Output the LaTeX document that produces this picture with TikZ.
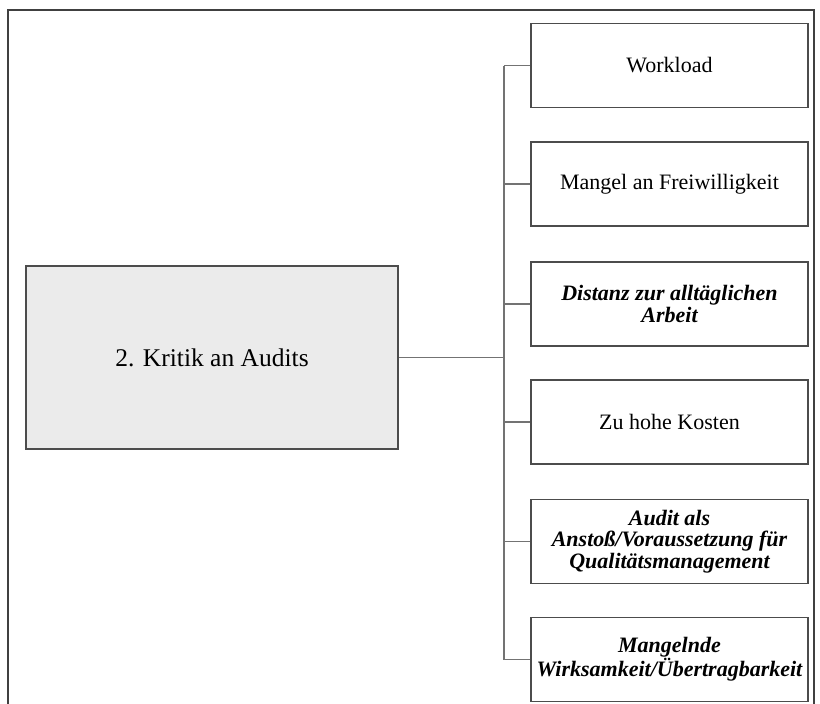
\documentclass[tikz,border=0pt]{standalone}
\usepackage{fontspec}
\setmainfont{Liberation Serif}
\begin{document}
\begin{tikzpicture}[x=1pt,y=-1pt,
  framel/.style={draw=black!75,line width=1.2pt},
  conn/.style={draw=black!55,line width=1.1pt},
  subbox/.style={draw=black!70,line width=1.5pt,minimum width=277pt,minimum height=84pt,align=center,font=\fontsize{22}{21.5}\selectfont,inner sep=0pt},
  bi/.style={font=\fontsize{22}{21.5}\selectfont\bfseries\itshape},
  mainbox/.style={draw=black!70,line width=1.5pt,fill=black!8,minimum width=372pt,minimum height=183pt,font=\fontsize{25.5}{28}\selectfont,inner sep=0pt}]
\useasboundingbox (0,0) rectangle (820,704);
\draw[framel] (8,704) -- (8,10) -- (814,10) -- (814,704);
\node[mainbox] (main) at (212,357.5) {2. Kritik an Audits};
\node[subbox] (s1) at (669.5,65.5) {Workload};
\node[subbox] (s2) at (669.5,184) {Mangel an Freiwilligkeit};
\node[subbox,bi] (s3) at (669.5,304) {Distanz zur allt\"aglichen\\Arbeit};
\node[subbox] (s4) at (669.5,422) {Zu hohe Kosten};
\node[subbox,bi] (s5) at (669.5,541.5) {Audit als\\Ansto\ss/Voraussetzung f\"ur\\Qualit\"atsmanagement};
\node[subbox,bi] (s6) at (669.5,659.5) {Mangelnde\\Wirksamkeit/\"Ubertragbarkeit};
\coordinate (t1) at (504,65.5);
\coordinate (t6) at (504,659.5);
\coordinate (tm) at (504,357.5);
\draw[conn] (t1) -- (t6);
\draw[conn] (main.east) -- (tm);
\foreach \n in {s1,s2,s3,s4,s5,s6}{\draw[conn] (\n.west) -- (tm |- \n.west);}
\end{tikzpicture}
\end{document}
